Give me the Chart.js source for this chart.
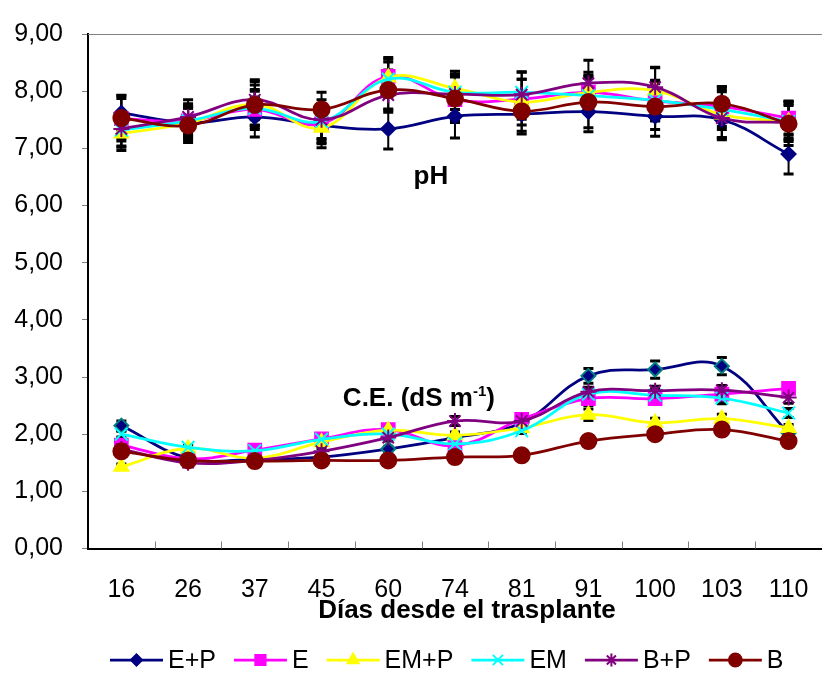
<!DOCTYPE html>
<html>
<head>
<meta charset="utf-8">
<script src="https://cdn.jsdelivr.net/npm/chart.js@4.4.1/dist/chart.umd.min.js"></script>
<style>
  html, body { margin: 0; padding: 0; background: #fff; overflow: hidden; }
  canvas { display: block; }
</style>
</head>
<body>
<canvas id="chart" width="836" height="673"></canvas>
<script>
// Días desde el trasplante
const days = ['16', '26', '37', '45', '60', '74', '81', '91', '100', '103', '110'];
const seriesNames = ['E+P', 'E', 'EM+P', 'EM', 'B+P', 'B'];
const colors = ['#000080', '#FF00FF', '#FFFF00', '#00FFFF', '#800080', '#800000'];
const markers = ['rectRot', 'rect', 'triangle', 'crossRot', 'star', 'circle'];
const radii = [7, 9, 8, 9, 8, 8];
const yTicks = [0, 1, 2, 3, 4, 5, 6, 7, 8, 9];

// pH
const phEP  = [7.62, 7.45, 7.55, 7.40, 7.34, 7.56, 7.60, 7.64, 7.56, 7.50, 6.90];
const phE   = [7.52, 7.48, 7.68, 7.43, 8.26, 7.85, 7.86, 7.98, 7.83, 7.73, 7.53];
const phEMP = [7.26, 7.44, 7.77, 7.36, 8.24, 8.05, 7.81, 7.98, 8.01, 7.59, 7.47];
const phEM  = [7.32, 7.48, 7.70, 7.47, 8.21, 7.98, 7.98, 7.92, 7.84, 7.68, 7.47];
const phBP  = [7.34, 7.55, 7.85, 7.50, 7.93, 7.95, 7.94, 8.14, 8.07, 7.53, 7.45];
const phB   = [7.53, 7.40, 7.76, 7.68, 8.02, 7.87, 7.65, 7.81, 7.73, 7.78, 7.43];

// error de pH (+/-)
const phErrEP  = [0.30, 0.25, 0.35, 0.30, 0.35, 0.38, 0.35, 0.35, 0.35, 0.35, 0.35];
const phErrE   = [0.35, 0.30, 0.35, 0.35, 0.30, 0.40, 0.35, 0.30, 0.35, 0.35, 0.30];
const phErrEMP = [0.30, 0.30, 0.40, 0.35, 0.35, 0.30, 0.40, 0.35, 0.40, 0.40, 0.35];
const phErrEM  = [0.30, 0.25, 0.30, 0.30, 0.30, 0.30, 0.35, 0.30, 0.35, 0.35, 0.30];
const phErrBP  = [0.30, 0.30, 0.35, 0.35, 0.30, 0.35, 0.40, 0.40, 0.35, 0.35, 0.30];
const phErrB   = [0.40, 0.30, 0.35, 0.30, 0.35, 0.40, 0.35, 0.45, 0.40, 0.30, 0.38];

// C.E. (dS m-1)
const ceEP  = [2.15, 1.58, 1.56, 1.60, 1.74, 1.94, 2.20, 3.02, 3.13, 3.19, 2.02];
const ceE   = [1.81, 1.57, 1.72, 1.92, 2.08, 1.80, 2.26, 2.62, 2.62, 2.70, 2.80];
const ceEMP = [1.43, 1.75, 1.58, 1.86, 2.07, 1.98, 2.11, 2.34, 2.20, 2.27, 2.11];
const ceEM  = [2.00, 1.77, 1.71, 1.91, 2.00, 1.83, 2.06, 2.70, 2.68, 2.63, 2.37];
const ceBP  = [1.74, 1.50, 1.54, 1.70, 1.94, 2.23, 2.23, 2.74, 2.76, 2.77, 2.64];
const ceB   = [1.70, 1.54, 1.53, 1.54, 1.54, 1.60, 1.63, 1.88, 2.00, 2.08, 1.88];

const ceErrEP  = [0.08, 0.05, 0.04, 0.05, 0.05, 0.06, 0.07, 0.13, 0.15, 0.15, 0.05];
const ceErrE   = [0.06, 0.04, 0.04, 0.05, 0.05, 0.05, 0.05, 0.12, 0.10, 0.12, 0.08];
const ceErrEMP = [0.05, 0.05, 0.04, 0.05, 0.06, 0.06, 0.05, 0.10, 0.08, 0.08, 0.06];
const ceErrEM  = [0.05, 0.05, 0.04, 0.05, 0.05, 0.05, 0.05, 0.08, 0.10, 0.10, 0.08];
const ceErrBP  = [0.06, 0.04, 0.04, 0.05, 0.06, 0.08, 0.06, 0.08, 0.08, 0.08, 0.10];
const ceErrB   = [0.05, 0.04, 0.04, 0.04, 0.04, 0.05, 0.05, 0.06, 0.06, 0.06, 0.06];

const phSets = [phEP, phE, phEMP, phEM, phBP, phB];
const phErrs = [phErrEP, phErrE, phErrEMP, phErrEM, phErrBP, phErrB];
const ceSets = [ceEP, ceE, ceEMP, ceEM, ceBP, ceB];
const ceErrs = [ceErrEP, ceErrE, ceErrEMP, ceErrEM, ceErrBP, ceErrB];

const FONT = '"Liberation Sans", Arial, sans-serif';

const makeSet = (k, values, errs, group) => ({
    label: seriesNames[k] + ' ' + group,
    data: values,
    errors: errs,
    borderColor: colors[k],
    backgroundColor: colors[k],
    pointBackgroundColor: colors[k],
    pointBorderColor: (group === 'CE' && k === 0) ? '#008080' : colors[k],
    pointStyle: markers[k],
    pointRadius: radii[k],
    pointHoverRadius: radii[k],
    pointBorderWidth: 2,
    borderWidth: 2.75,
    tension: 0.4,
    fill: false,
    order: 20 - k
});

const datasets = [];
for (let k = 0; k < seriesNames.length; k++) {
    datasets.push(makeSet(k, phSets[k], phErrs[k], 'pH'));
    datasets.push(makeSet(k, ceSets[k], ceErrs[k], 'CE'));
}

// barras de error, marco superior y marcas interiores del eje X
const errorBars = {
    id: 'errorBars',
    beforeDatasetsDraw(chart) {
        const { ctx, chartArea: a, scales: { x, y } } = chart;
        ctx.save();
        ctx.strokeStyle = '#606060';
        ctx.lineWidth = 1;
        ctx.beginPath();
        ctx.moveTo(a.left, a.top + 0.5);
        ctx.lineTo(a.right, a.top + 0.5);
        ctx.strokeStyle = '#808080';
        for (let i = 1; i < days.length; i++) {
            const px = Math.round((x.getPixelForTick(i - 1) + x.getPixelForTick(i)) / 2) + 0.5;
            ctx.moveTo(px, a.bottom);
            ctx.lineTo(px, a.bottom - 7);
        }
        ctx.stroke();

        ctx.strokeStyle = '#000';
        chart.data.datasets.forEach((ds, di) => {
            const meta = chart.getDatasetMeta(di);
            ds.data.forEach((v, i) => {
                const e = ds.errors[i];
                const px = meta.data[i].x;
                const top = y.getPixelForValue(v + e);
                const bot = y.getPixelForValue(v - e);
                ctx.lineWidth = 2;
                ctx.beginPath();
                ctx.moveTo(px, top);
                ctx.lineTo(px, bot);
                ctx.stroke();
                ctx.lineWidth = 3;
                ctx.beginPath();
                ctx.moveTo(px - 5, top);
                ctx.lineTo(px + 5, top);
                ctx.moveTo(px - 5, bot);
                ctx.lineTo(px + 5, bot);
                ctx.stroke();
            });
        });
        ctx.restore();
    }
};

// rótulos: pH, C.E., título del eje X y leyenda
const labels = {
    id: 'labels',
    afterDraw(chart) {
        const { ctx, chartArea: a, scales: { x, y } } = chart;
        ctx.save();
        ctx.fillStyle = '#000';
        ctx.textBaseline = 'alphabetic';

        ctx.font = 'bold 26px ' + FONT;
        ctx.textAlign = 'center';
        ctx.fillText('pH', x.getPixelForValue(4.64), y.getPixelForValue(6.38));

        ctx.textAlign = 'left';
        let cx = x.getPixelForValue(3.32);
        const cy = y.getPixelForValue(2.49);
        ctx.fillText('C.E. (dS m', cx, cy);
        cx += ctx.measureText('C.E. (dS m').width;
        ctx.font = 'bold 15px ' + FONT;
        ctx.fillText('-1', cx, cy - 10);
        cx += ctx.measureText('-1').width;
        ctx.font = 'bold 26px ' + FONT;
        ctx.fillText(')', cx, cy);

        ctx.textAlign = 'center';
        ctx.fillText('Días desde el trasplante', x.getPixelForValue(5.18), a.bottom + 69);

        // leyenda
        ctx.font = '25px ' + FONT;
        ctx.textAlign = 'left';
        ctx.textBaseline = 'middle';
        let lx = 110;
        const ly = 660;
        seriesNames.forEach((name, k) => {
            ctx.strokeStyle = colors[k];
            ctx.fillStyle = colors[k];
            ctx.lineWidth = 2.75;
            ctx.beginPath();
            ctx.moveTo(lx, ly);
            ctx.lineTo(lx + 53, ly);
            ctx.stroke();
            ctx.lineWidth = 2;
            Chart.helpers.drawPoint(ctx, { pointStyle: markers[k], radius: radii[k] * 0.8, borderWidth: 2, rotation: 0 }, lx + 26.5, ly);
            ctx.fillStyle = '#000';
            ctx.fillText(name, lx + 58, ly + 1);
            lx += 58 + ctx.measureText(name).width + 18;
        });
        ctx.restore();
    }
};

new Chart(document.getElementById('chart'), {
    type: 'line',
    data: { labels: days, datasets: datasets },
    options: {
        responsive: false,
        animation: false,
        devicePixelRatio: 1,
        layout: { padding: { top: 22, left: 0, right: 0, bottom: 0 } },
        plugins: {
            legend: { display: false },
            tooltip: { enabled: false }
        },
        scales: {
            x: {
                offset: true,
                grid: { display: false, drawTicks: false },
                border: { display: true, color: '#000', width: 2 },
                ticks: {
                    color: '#000',
                    font: { family: FONT, size: 25 },
                    padding: 27,
                    maxRotation: 0,
                    autoSkip: false
                },
                afterFit: s => { s.height = 124.5; }
            },
            y: {
                min: 0,
                max: 9,
                afterBuildTicks: s => { s.ticks = yTicks.map(v => ({ value: v })); },
                grid: { drawOnChartArea: false, drawTicks: true, tickLength: 6, color: '#808080' },
                border: { display: true, color: '#000', width: 2 },
                ticks: {
                    color: '#000',
                    font: { family: FONT, size: 25 },
                    padding: 19,
                    callback: v => v.toFixed(2).replace('.', ',')
                },
                afterFit: s => { s.width = 88; }
            }
        }
    },
    plugins: [errorBars, labels]
});
</script>
</body>
</html>
